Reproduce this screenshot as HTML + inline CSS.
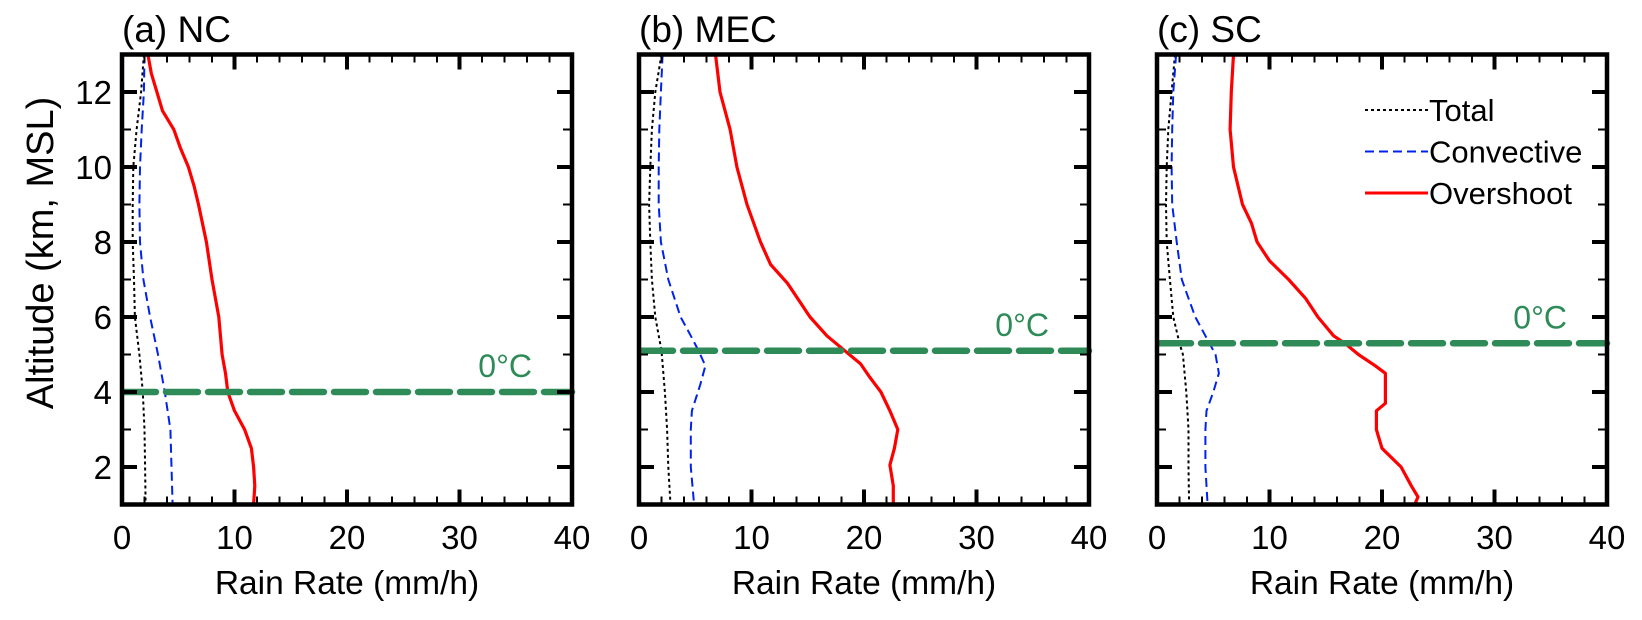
<!DOCTYPE html>
<html><head><meta charset="utf-8"><style>
html,body{margin:0;padding:0;background:#fff;}
svg{display:block;font-family:"Liberation Sans",Arial,sans-serif;}
</style></head><body>
<svg id="chart" width="1642" height="620" viewBox="0 0 1642 620" xmlns="http://www.w3.org/2000/svg">
<text x="0" y="0" transform="translate(53,253) rotate(-90)" text-anchor="middle" font-size="38">Altitude (km, MSL)</text>
</svg>
<script>
// ---- data ----
const panelTitles = ["(a) NC", "(b) MEC", "(c) SC"];
const xTicks = [0, 10, 20, 30, 40];
const yTicks = [2, 4, 6, 8, 10, 12];
const freezingLevels = [4.0, 5.1, 5.3];

const aTotH = [13,12,11,10,9,8,7,6,5,4,3,2,1];
const aTotV = [1.95,1.7,1.3,1.0,0.95,0.95,1.07,1.15,1.55,1.85,2.0,2.05,2.1];
const aConH = [13,12,11,10,9,8,7,6,5,4,3,2,1];
const aConV = [2.0,1.95,1.75,1.6,1.55,1.6,1.9,2.5,3.2,3.8,4.3,4.4,4.5];
const aOvH = [13,12.5,12,11.5,11,10.5,10,9.5,9,8,7,6,5,4.5,4,3.5,3,2.5,2,1.5,1];
const aOvV = [2.3,2.6,3.1,3.6,4.6,5.2,5.9,6.4,6.8,7.5,8.0,8.6,8.9,9.2,9.4,10.0,10.9,11.5,11.7,11.8,11.7];

const bTotH = [13,12,11,10,9,8,7,6,5.1,4,3,2,1];
const bTotV = [2.0,1.45,1.15,1.0,0.9,1.0,1.15,1.45,2.0,2.3,2.5,2.6,2.8];
const bConH = [13,12,11,10,9,8,7,6,5.5,5.1,4.7,4.2,3.5,3,2,1];
const bConV = [2.1,1.95,1.8,1.75,1.75,1.95,2.6,3.7,4.6,5.3,5.9,5.45,4.7,4.6,4.6,4.9];
const bOvH = [13,12,11,10,9,8,7.4,6.9,6,5.5,5.1,4.75,4.4,4,3.5,3,2.5,2.05,1.5,1];
const bOvV = [6.8,7.2,8.1,8.7,9.6,10.8,11.7,13.2,15.2,16.7,18.3,19.7,20.5,21.5,22.3,23.0,22.7,22.3,22.6,22.6];

const cTotH = [13,12,11,10,9,8,7,6,5.3,5,4,3,2,1];
const cTotV = [1.6,1.3,1.0,0.86,0.8,0.86,1.15,1.45,2.0,2.3,2.6,2.8,2.8,2.85];
const cConH = [13,12,11,10,9,8,7,6.5,6,5.5,5,4.5,4,3.5,3,2,1];
const cConV = [1.7,1.45,1.35,1.3,1.35,1.75,2.2,2.8,3.4,4.3,5.2,5.5,5.0,4.4,4.3,4.3,4.5];
const cOvH = [13,12,11,10,9.5,9,8.5,8,7.5,7,6.5,6,5.5,5.3,5,4.7,4.5,4,3.7,3.5,3,2.8,2.5,2,1.5,1.2,1];
const cOvV = [6.8,6.6,6.5,6.8,7.2,7.6,8.4,8.9,10.0,11.7,13.2,14.3,15.7,16.7,17.9,19.4,20.3,20.3,20.3,19.5,19.5,19.7,20.0,21.7,22.6,23.2,22.9];

const legendLabels = ["Total", "Convective", "Overshoot"];

// ---- layout ----
const NS = "http://www.w3.org/2000/svg";
const svg = document.getElementById("chart");
const panelLeft = [122, 639, 1157];
const W = 450, TOP = 54.5, BOT = 504.5;
const XMAX = 40, YMIN = 1, YMAX = 13;
function mk(tag, attrs, parent) {
  const e = document.createElementNS(NS, tag);
  for (const k in attrs) e.setAttribute(k, attrs[k]);
  (parent || svg).appendChild(e);
  return e;
}
const styles = [
  {stroke:"#000", w:2, dash:"3,3"},
  {stroke:"#0022ee", w:2, dash:"9,5"},
  {stroke:"#ff0000", w:3.2, dash:""}
];
const data = [
  [[aTotH,aTotV],[aConH,aConV],[aOvH,aOvV]],
  [[bTotH,bTotV],[bConH,bConV],[bOvH,bOvV]],
  [[cTotH,cTotV],[cConH,cConV],[cOvH,cOvV]]
];
const seriesNames = ["total-line","convective-line","overshoot-line"];

for (let p = 0; p < 3; p++) {
  const L = panelLeft[p];
  const xs = v => L + v / XMAX * W;
  const ys = h => BOT - (h - YMIN) / (YMAX - YMIN) * (BOT - TOP);
  const g = mk("g", {});
  
  

  const t = mk("text", {x: L, y: 42, "font-size": 37}, g);
  t.textContent = panelTitles[p];
  
  

  data[p].forEach((s, i) => {
    const pts = s[0].map((h, k) => xs(s[1][k]).toFixed(1) + "," + ys(h).toFixed(1)).join(" ");
    const pl = mk("polyline", {points: pts, fill: "none", stroke: styles[i].stroke, "stroke-width": styles[i].w, "stroke-dasharray": styles[i].dash, "stroke-linejoin": "round"}, g);
    
    
  });

  const fy = ys(freezingLevels[p]);
  const fl = mk("line", {x1: L + 2, x2: L + W, y1: fy, y2: fy, stroke: "#2e8b57", "stroke-width": 6.5, "stroke-dasharray": "32,10", "stroke-linecap": "round"}, g);
  
  
  const ft = mk("text", {x: L + W - 40, y: fy - 15, "font-size": 32, fill: "#2e8b57", "text-anchor": "end"}, g);
  ft.textContent = "0°C";
  
  

  for (let v = 0; v <= XMAX; v += 2) {
    const major = v % 10 === 0;
    const len = major ? 15 : 8;
    const x = xs(v);
    mk("line", {x1: x, x2: x, y1: BOT, y2: BOT - len, stroke: "#000", "stroke-width": major ? 4 : 2}, g);
    mk("line", {x1: x, x2: x, y1: TOP, y2: TOP + len, stroke: "#000", "stroke-width": major ? 4 : 2}, g);
  }
  xTicks.forEach(v => {
    const tl = mk("text", {x: xs(v), y: 549, "font-size": 33, "text-anchor": "middle"}, g);
    tl.textContent = v;
    
    
  });
  for (let h = 1; h <= 13; h++) {
    const major = h % 2 === 0;
    const len = major ? 15 : 9;
    const y = ys(h);
    mk("line", {x1: L, x2: L + len, y1: y, y2: y, stroke: "#000", "stroke-width": major ? 4 : 2}, g);
    mk("line", {x1: L + W, x2: L + W - len, y1: y, y2: y, stroke: "#000", "stroke-width": major ? 4 : 2}, g);
  }
  if (p === 0) {
    yTicks.forEach(h => {
      const tl = mk("text", {x: 112, y: ys(h) + 12, "font-size": 33, "text-anchor": "end"}, g);
      tl.textContent = h;
      
      
    });
  }
  const fr = mk("rect", {x: L, y: TOP, width: W, height: BOT - TOP, fill: "none", stroke: "#000", "stroke-width": 4.5}, g);
  
  

  const xt = mk("text", {x: L + W / 2, y: 594, "font-size": 33.5, "text-anchor": "middle"}, g);
  xt.textContent = "Rain Rate (mm/h)";
  
  
}

const lg = mk("g", {});


legendLabels.forEach((lab, i) => {
  const y = 110 + i * 41.5;
  const ln = mk("line", {x1: 1365, x2: 1428, y1: y, y2: y, stroke: styles[i].stroke, "stroke-width": i === 2 ? 3 : 2, "stroke-dasharray": styles[i].dash}, lg);
  
  
  const tx = mk("text", {x: 1429, y: y + 11, "font-size": 31}, lg);
  tx.textContent = lab;
  
  
});
</script>
</body></html>
